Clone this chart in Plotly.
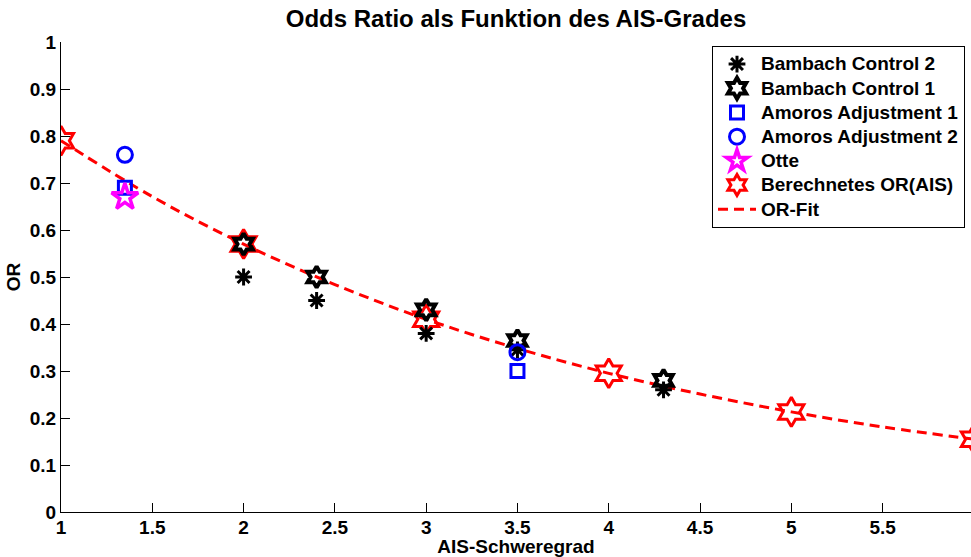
import plotly.graph_objects as go

# AIS grade vs. odds ratio, per source
bc2_x = [2.0, 2.4, 3.0, 3.5, 4.3]
bc2_y = [0.50, 0.45, 0.38, 0.345, 0.26]

bc1_x = [2.0, 2.4, 3.0, 3.5, 4.3]
bc1_y = [0.57, 0.50, 0.43, 0.365, 0.28]

am1_x = [1.35, 3.5]
am1_y = [0.69, 0.30]

am2_x = [1.35, 3.5]
am2_y = [0.76, 0.34]

otte_x = [1.35]
otte_y = [0.67]

calc_x = [1, 2, 3, 4, 5, 6]
calc_y = [0.79, 0.57, 0.41, 0.295, 0.213, 0.155]

fit_x = [1.0, 1.5, 2.0, 2.5, 3.0, 3.5, 4.0, 4.5, 5.0, 5.5, 6.0]
fit_y = [0.79, 0.671, 0.57, 0.484, 0.41, 0.348, 0.295, 0.251, 0.213, 0.181, 0.155]

x_ticks = [1, 1.5, 2, 2.5, 3, 3.5, 4, 4.5, 5, 5.5]
y_ticks = [0, 0.1, 0.2, 0.3, 0.4, 0.5, 0.6, 0.7, 0.8, 0.9, 1]

FONT = "Liberation Sans, Arial, sans-serif"


def bold(s):
    return f"<b>{s}</b>"


def legend_label(s):
    # legend rows are spaced by the legend font; the label itself is drawn larger
    return f"<span style='font-size:19px'><b>{s}</b></span>"


fig = go.Figure()

fig.add_trace(go.Scatter(
    x=fit_x, y=fit_y, mode="lines", name=legend_label("OR-Fit"), legendrank=7,
    line=dict(color="#ff0000", width=3, dash="10px,6px", shape="spline"),
))
fig.add_trace(go.Scatter(
    x=calc_x, y=calc_y, mode="markers", name=legend_label("Berechnetes OR(AIS)"), legendrank=6,
    marker=dict(symbol="hexagram-open", size=22, color="#ff0000",
                line=dict(width=3, color="#ff0000")),
))
fig.add_trace(go.Scatter(
    x=bc2_x, y=bc2_y, mode="markers", name=legend_label("Bambach Control 2"), legendrank=1,
    marker=dict(symbol="asterisk-open", size=14, color="#000000",
                line=dict(width=3, color="#000000")),
))
fig.add_trace(go.Scatter(
    x=bc1_x, y=bc1_y, mode="markers", name=legend_label("Bambach Control 1"), legendrank=2,
    marker=dict(symbol="hexagram-open", size=16, color="#000000",
                line=dict(width=4, color="#000000")),
))
fig.add_trace(go.Scatter(
    x=am1_x, y=am1_y, mode="markers", name=legend_label("Amoros Adjustment 1"), legendrank=3,
    marker=dict(symbol="square-open", size=13, color="#0000ff",
                line=dict(width=3, color="#0000ff")),
))
fig.add_trace(go.Scatter(
    x=am2_x, y=am2_y, mode="markers", name=legend_label("Amoros Adjustment 2"), legendrank=4,
    marker=dict(symbol="circle-open", size=15, color="#0000ff",
                line=dict(width=3, color="#0000ff")),
))
fig.add_trace(go.Scatter(
    x=otte_x, y=otte_y, mode="markers", name=legend_label("Otte"), legendrank=5,
    marker=dict(symbol="star-open", size=20, color="#ff00ff",
                line=dict(width=3.5, color="#ff00ff")),
))

axis_common = dict(
    showline=True, linecolor="#000000", linewidth=1, mirror=False,
    showgrid=False, zeroline=False,
    ticks="inside", ticklen=9, tickcolor="#000000", tickwidth=1,
    tickfont=dict(family=FONT, size=19, color="#000000"),
)

fig.update_layout(
    width=971, height=557,
    margin=dict(l=61, r=0, t=42, b=45),
    paper_bgcolor="#ffffff", plot_bgcolor="#ffffff",
    font=dict(family=FONT, color="#000000"),
    title=dict(
        text=bold("Odds Ratio als Funktion des AIS-Grades"),
        font=dict(family=FONT, size=24, color="#000000"),
        x=(61 + 971) / 2 / 971, xanchor="center", y=1 - 19 / 557, yanchor="middle",
    ),
    xaxis=dict(
        range=[1, 5.984], tickvals=x_ticks,
        ticktext=[bold(f"{v:g}") for v in x_ticks],
        ticklabelstandoff=-2,
        title=dict(text=bold("AIS-Schweregrad"), standoff=1,
                   font=dict(family=FONT, size=19, color="#000000")),
        **axis_common,
    ),
    yaxis=dict(
        range=[0, 1], tickvals=y_ticks,
        ticktext=[bold(f"{v:g}") for v in y_ticks],
        ticklabelstandoff=0,
        title=dict(text=bold("OR"), standoff=4,
                   font=dict(family=FONT, size=19, color="#000000")),
        **axis_common,
    ),
    legend=dict(
        x=(712 - 61) / 910, y=(512 - 46) / 470, xanchor="left", yanchor="top",
        bgcolor="#ffffff", bordercolor="#000000", borderwidth=1,
        font=dict(family=FONT, size=16.3, color="#000000"),
        itemwidth=38, tracegroupgap=0,
    ),
    showlegend=True,
)

fig.write_html("out.html")
